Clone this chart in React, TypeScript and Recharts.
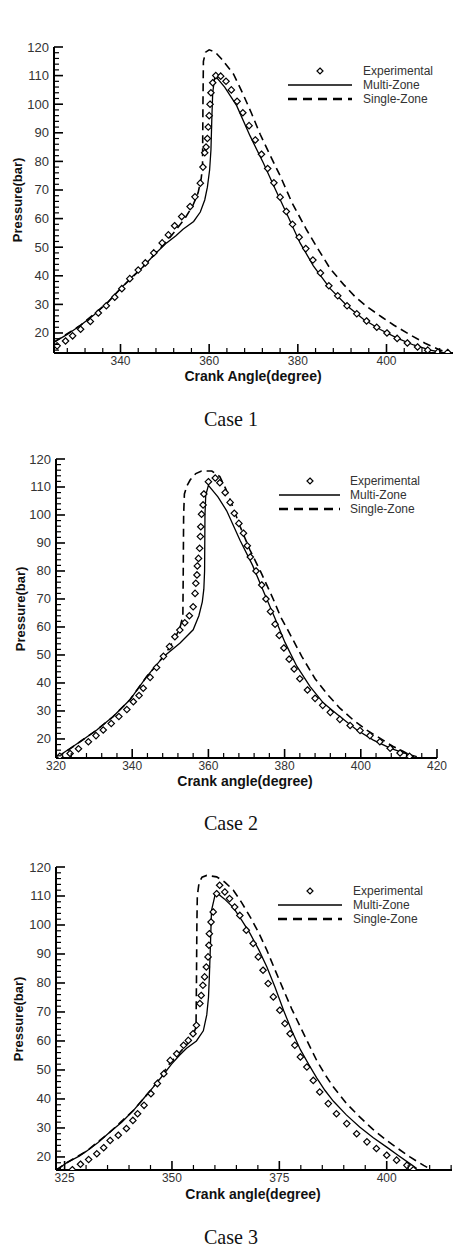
import React from 'react';
import { LineChart, Line, XAxis, YAxis, Legend } from 'recharts';

type Pt = [number, number];

// Case 1 : [crank angle (deg), pressure (bar)]
const case1Exp: Pt[] = [
  [325.7, 15.5], [327.6, 17.2], [329.2, 19], [331, 21.3], [333.2, 24], [335, 27], [336.8, 29.5],
  [338.7, 32.5], [340.3, 35.5], [342.1, 39], [344, 42], [345.6, 44.5], [347.5, 48], [349.4, 51.5],
  [350.8, 54.3], [352.2, 57.5], [353.8, 60.7], [355.7, 64.2], [356.8, 67.6], [358, 72.4], [358.6, 78],
  [359, 83], [359.3, 85], [359.6, 88], [359.8, 92], [360, 96], [360.2, 100], [360.4, 104], [360.8, 107.5],
  [361.5, 110], [362.6, 109.8], [363.8, 108], [365, 105], [366.3, 101], [367.6, 97], [369, 92.5],
  [370.4, 87.5], [371.8, 82.5], [373.2, 77.5], [374.6, 72.5], [376, 67.5], [377.4, 62.5], [378.8, 58],
  [380.3, 53.5], [381.8, 49.5], [383.4, 45.5], [385.1, 41], [387, 36.5], [389, 33], [391.1, 29.5],
  [393.3, 26.7], [395.5, 24.2], [397.8, 22], [400.1, 20], [402.4, 18.1], [404.7, 16.5], [407, 15.1],
  [409.3, 14], [411.6, 13.3], [413.8, 13.2],
];
const case1Multi: Pt[] = [
  [325, 16.8], [328, 19.5], [331, 22.7], [334, 26.3], [337, 30.5], [340, 35.5], [342.5, 39.5], [345, 43],
  [348, 48], [350.4, 51.5], [352.5, 54], [354.1, 56.3], [356.5, 59], [358, 62.3], [359, 66.5], [359.6, 71],
  [360.1, 77], [360.4, 84], [360.6, 95], [360.8, 104], [361.3, 110], [363.5, 106], [366.2, 99.5],
  [369.2, 89], [372.2, 79.5], [375, 70], [378, 60], [380.5, 51.5], [383.5, 43.5], [387.3, 35.5],
  [391.1, 29.5], [394.8, 24.8], [398.6, 21.2], [402.4, 18.2], [406.1, 15.8], [409.9, 14], [412.8, 13.1],
];
const case1Single: Pt[] = [
  [325, 16.8], [331, 22.7], [337, 30.5], [340, 35.5], [345, 43], [348, 48], [350.4, 52], [352.5, 56],
  [354.5, 60], [356.3, 64.5], [357.5, 69], [358.2, 74], [358.5, 78], [358.6, 100], [358.7, 115],
  [359.2, 118.2], [360, 119], [361.3, 118.3], [362.8, 115.8], [365.5, 110.5], [367.5, 104], [369.5, 97],
  [371.5, 89.5], [373.8, 82], [376, 75], [378.7, 65.5], [382, 56], [384.3, 50], [387.3, 42.5],
  [390.3, 37], [392.9, 32.7], [395.6, 29.2], [399, 25.5], [401.6, 22.8], [405.4, 19.3], [408.7, 16.4],
  [412.1, 14], [414.6, 13],
];

// Case 2
const case2Exp: Pt[] = [
  [321, 13.8], [323.7, 14.8], [325.9, 16.5], [328.5, 19], [330.5, 21.2], [332.4, 23.2], [334.5, 25.5],
  [336.5, 28], [338.6, 30.5], [340.3, 33.3], [341.8, 35.5], [342.9, 38.1], [344.7, 42], [346.4, 45.5],
  [348.2, 49.5], [349.8, 53], [351.2, 56.5], [352.5, 58.9], [353.8, 61.5], [355, 64], [356, 67.2],
  [356.5, 72], [356.7, 75.6], [357, 78.6], [357.1, 81.8], [357.4, 84.5], [357.7, 88.1], [357.9, 92.3],
  [358, 95.8], [358.2, 100.3], [358.6, 103.6], [358.8, 107.5], [360, 111.9], [361.8, 113.2], [363, 111.5],
  [364.4, 108], [365.7, 104.5], [366.8, 100.6], [368, 97], [369.2, 93.5], [370.2, 89], [371, 85],
  [372.5, 80], [374, 75], [375.1, 70], [376.3, 65.5], [377.5, 61], [378.6, 57], [379.8, 52.5],
  [381.2, 48.5], [382.5, 45], [384, 41.5], [386, 37.5], [388, 34.5], [390, 32], [392, 29.5], [394.5, 27],
  [397.2, 24.8], [399.8, 23], [402.4, 21.2], [405, 19], [407.7, 16.7], [410.3, 15], [412.8, 13.8],
];
const case2Multi: Pt[] = [
  [320.2, 13.2], [321.9, 15], [326.3, 19], [330.7, 23.2], [335, 28], [339.4, 34], [343.8, 42.3],
  [348.2, 49.4], [352.5, 54.2], [356, 59], [357.5, 64], [358.4, 69], [358.8, 73.5], [359, 80], [359.1, 100],
  [359.3, 107], [360, 110.6], [362.5, 106.5], [364.8, 101.5], [368.3, 91], [371.6, 82], [375, 71],
  [377.5, 63], [380.1, 54.5], [383.2, 46], [386.7, 38.7], [390.2, 32.8], [394.5, 28], [398.9, 23.3],
  [403.3, 19.6], [407.7, 16.7], [411.2, 15], [414.7, 13.7],
];
const case2Single: Pt[] = [
  [320.2, 13.2], [326.3, 19], [330.7, 23.2], [335, 28], [339.4, 34], [343.8, 42.3], [346.5, 46.5],
  [349, 51], [351, 55.5], [352.5, 59.5], [353.3, 64], [353.4, 80], [353.5, 100], [353.7, 107.5],
  [354.4, 110.5], [355.2, 112.5], [356.7, 114.8], [358.2, 115.7], [360.9, 115.7], [363, 113.7],
  [364.5, 109.5], [365.7, 105.4], [368.3, 96], [370.9, 87.5], [373.8, 79.5], [377, 70], [379, 63.5],
  [381, 58.5], [384.5, 49.5], [388, 41.5], [391.5, 35.5], [394.5, 31], [398, 26.8], [401.5, 23.2],
  [405, 20.3], [408.5, 17.3], [411.2, 15.5], [414, 13.5],
];

// Case 3
const case3Exp: Pt[] = [
  [326.8, 15.6], [328.7, 17.5], [330.6, 19.1], [332.5, 21.1], [334.1, 23.2], [335.6, 25.7], [337.5, 27.5],
  [339.4, 29.8], [340.9, 32.6], [342, 34.9], [343.5, 37.8], [345.1, 41.8], [346.6, 45.3], [348.1, 48.7],
  [349.6, 53.3], [351.1, 55.6], [352.7, 58.5], [353.8, 60.2], [354.9, 62.5], [355.7, 65.4], [356.5, 72.9],
  [356.8, 75.7], [357.2, 79.2], [357.6, 82.1], [358, 85.5], [358.4, 89], [358.6, 93], [358.7, 97],
  [359.1, 101], [359.6, 104.5], [360.4, 110.8], [361.1, 113.7], [362.3, 111.4], [363.4, 109.1],
  [364.6, 106.2], [365.8, 103.3], [367.3, 98.2], [368.9, 93.6], [370.1, 89], [371.2, 84.4], [372.4, 79.8],
  [373.6, 75.2], [375.1, 70.6], [376.3, 66], [377.5, 62.5], [378.6, 58.5], [379.9, 54.5], [381.4, 51],
  [382.9, 46.4], [384.4, 42.4], [386.4, 38.4], [388.3, 34.9], [390.7, 31.5], [393, 28], [395.4, 25.2],
  [397.6, 22.9], [400, 20.6], [402.3, 18.9], [404.7, 17.1], [406.2, 15.6],
];
const case3Multi: Pt[] = [
  [323, 15.4], [325.5, 18], [328.4, 20.3], [330.1, 22], [332.8, 25], [335.5, 28.5], [338.3, 32], [341, 36],
  [343.3, 40], [345.6, 44], [347.8, 48], [349.9, 52], [351.7, 55], [353.4, 57.5], [355.7, 60],
  [357.3, 63.5], [358.1, 69], [358.5, 75], [358.7, 82], [359, 95], [359.2, 105], [360.2, 111.4],
  [362.2, 109], [364.3, 106], [366.3, 101.5], [368.2, 97], [370.2, 91.5], [372.1, 85.5], [374, 78.5],
  [376, 70.5], [377.9, 63.5], [379.9, 57], [381.8, 52], [383.7, 47.3], [385.6, 43], [387.6, 39.2],
  [390.6, 34.5], [393.7, 30.3], [396.8, 26.7], [400, 23.4], [402.7, 20.5], [405.4, 17.7], [407, 16],
];
const case3Single: Pt[] = [
  [323, 15.4], [325.5, 18], [330.1, 22], [335.5, 28.5], [341, 36], [345.6, 44], [349.6, 52.5],
  [351.5, 55.5], [353.2, 58.3], [354.8, 61.5], [355.6, 64.8], [355.7, 80], [355.8, 100], [355.9, 110],
  [356.3, 114.5], [357, 116.5], [358.1, 117.1], [360.4, 116.6], [362.3, 114.8], [364.3, 112],
  [366.2, 107.8], [368.2, 102.8], [370.2, 97.3], [372.1, 91.3], [374, 84.5], [376, 77.5], [377.9, 71],
  [379.9, 64.8], [381.8, 59], [383.7, 53.3], [385.6, 48.5], [387.6, 44.1], [390.6, 38.5], [393.7, 33.8],
  [396.8, 29.5], [400, 25.7], [402.7, 22.8], [405.4, 20], [408.6, 17.1], [410.6, 15.4],
];

// axis labels
const yLabels = [20, 30, 40, 50, 60, 70, 80, 90, 100, 110, 120];
const case1XLabels = [340, 360, 380, 400];
const case2XLabels = [320, 340, 360, 380, 400, 420];
const case3XLabels = [325, 350, 375, 400];

const range = (from: number, to: number, step: number) => {
  const out: number[] = [];
  for (let v = from; v <= to + 1e-6; v += step) out.push(Math.round(v * 100) / 100);
  return out;
};

const toRows = (pts: Pt[]) => pts.map(([x, y]) => ({ x, y }));

const FONT = '"Liberation Sans", Arial, Helvetica, sans-serif';

const diamondPath = (cx: number, cy: number, r: number) =>
  `M${cx},${cy - r}L${cx + r},${cy}L${cx},${cy + r}L${cx - r},${cy}Z`;

const ExpDot = (props: any) => {
  const { cx, cy, index } = props;
  if (cx == null || cy == null) return <g key={index} />;
  return (
    <path key={index} d={diamondPath(cx, cy, 3.2)} fill="#fff" stroke="#000" strokeWidth={1.2} />
  );
};

const makeXTick = (labels: number[]) => (props: any) => {
  const { x, y, payload } = props;
  const major = labels.includes(payload.value);
  return (
    <g>
      <line x1={x} x2={x} y1={y} y2={y - (major ? 9 : 5)} stroke="#000" strokeWidth={major ? 1.6 : 1.2} />
      {major && (
        <text x={x} y={y + 8} textAnchor="middle" dominantBaseline="central"
          fontSize={12} fill="#333" fontFamily={FONT}>
          {payload.value}
        </text>
      )}
    </g>
  );
};

const YTick = (props: any) => {
  const { x, y, payload } = props;
  const major = yLabels.includes(payload.value);
  return (
    <g>
      <line x1={x} x2={x + (major ? 9 : 5)} y1={y} y2={y} stroke="#000" strokeWidth={major ? 1.6 : 1.2} />
      {major && (
        <text x={x - 5} y={y} textAnchor="end" dominantBaseline="central"
          fontSize={13} fill="#333" fontFamily={FONT}>
          {payload.value}
        </text>
      )}
    </g>
  );
};

interface LegendPos { left: number; top: number; lineLen: number; textX: number; diamondX: number }

const LegendBox = ({ pos }: { pos: LegendPos }) => (
  <svg width={180} height={48} style={{ display: 'block', overflow: 'visible' }}>
    <path d={diamondPath(pos.diamondX, 9, 3)} fill="#fff" stroke="#000" strokeWidth={1.2} />
    <text x={pos.textX} y={9} dominantBaseline="central" fontSize={12} fill="#333" fontFamily={FONT}>
      Experimental
    </text>
    <line x1={3} x2={3 + pos.lineLen} y1={23} y2={23} stroke="#000" strokeWidth={1.3} />
    <text x={pos.textX} y={23} dominantBaseline="central" fontSize={12} fill="#333" fontFamily={FONT}>
      Multi-Zone
    </text>
    <line x1={3} x2={3 + pos.lineLen} y1={37} y2={37} stroke="#000" strokeWidth={2.4} strokeDasharray="9 6" />
    <text x={pos.textX} y={37} dominantBaseline="central" fontSize={12} fill="#333" fontFamily={FONT}>
      Single-Zone
    </text>
  </svg>
);

interface CaseConfig {
  top: number;
  height: number;
  yAxisWidth: number;
  right: number;
  xDomain: [number, number];
  yDomain: [number, number];
  xTicks: number[];
  xLabels: number[];
  exp: Pt[];
  multi: Pt[];
  single: Pt[];
  legend: LegendPos;
}

const cases: CaseConfig[] = [
  {
    top: 0, height: 393, yAxisWidth: 54, right: 5,
    xDomain: [325, 415], yDomain: [13, 120],
    xTicks: range(328, 412, 4), xLabels: case1XLabels,
    exp: case1Exp, multi: case1Multi, single: case1Single,
    legend: { left: 285, top: 62, lineLen: 64, textX: 78, diamondX: 35 },
  },
  {
    top: 412, height: 386, yAxisWidth: 56, right: 21,
    xDomain: [320, 420], yDomain: [13.2, 120],
    xTicks: range(320, 420, 4), xLabels: case2XLabels,
    exp: case2Exp, multi: case2Multi, single: case2Single,
    legend: { left: 276, top: 60, lineLen: 61, textX: 74, diamondX: 34 },
  },
  {
    top: 820, height: 390, yAxisWidth: 56, right: 6,
    xDomain: [323, 415.2], yDomain: [15.5, 120],
    xTicks: range(325, 415, 5), xLabels: case3XLabels,
    exp: case3Exp, multi: case3Multi, single: case3Single,
    legend: { left: 275, top: 62, lineLen: 64, textX: 78, diamondX: 35 },
  },
];

const CaseChart = ({ c }: { c: CaseConfig }) => (
  <div style={{ position: 'absolute', left: 0, top: c.top }}>
    <LineChart width={458} height={c.height} margin={{ top: 47, right: c.right, left: 0, bottom: 0 }}>
      <XAxis
        type="number"
        dataKey="x"
        domain={c.xDomain}
        allowDataOverflow
        ticks={c.xTicks}
        interval={0}
        tick={makeXTick(c.xLabels)}
        tickLine={false}
        tickSize={0}
        tickMargin={0}
        height={40}
        axisLine={{ stroke: '#000', strokeWidth: 2 }}
      />
      <YAxis
        type="number"
        dataKey="y"
        domain={c.yDomain}
        allowDataOverflow
        ticks={range(14, 120, 2).filter((v) => v >= c.yDomain[0])}
        interval={0}
        tick={YTick}
        tickLine={false}
        tickSize={0}
        tickMargin={0}
        width={c.yAxisWidth}
        axisLine={{ stroke: '#000', strokeWidth: 2 }}
      />
      <Legend
        layout="horizontal"
        verticalAlign="middle"
        align="center"
        wrapperStyle={{ left: c.legend.left, top: c.legend.top, width: 180, height: 48 }}
        content={() => <LegendBox pos={c.legend} />}
      />
      <Line
        data={toRows(c.multi)}
        dataKey="y"
        name="Multi-Zone"
        type="linear"
        stroke="#000"
        strokeWidth={1.3}
        dot={false}
        isAnimationActive={false}
      />
      <Line
        data={toRows(c.single)}
        dataKey="y"
        name="Single-Zone"
        type="linear"
        stroke="#000"
        strokeWidth={1.6}
        strokeDasharray="8 5"
        dot={false}
        isAnimationActive={false}
      />
      <Line
        data={toRows(c.exp)}
        dataKey="y"
        name="Experimental"
        stroke="none"
        dot={ExpDot}
        activeDot={false}
        isAnimationActive={false}
      />
    </LineChart>
  </div>
);

// axis titles and captions, page coordinates
const titles = [
  { yTitle: [17, 200], xTitle: [253, 376], xText: 'Crank Angle(degree)', caption: [231, 418], capText: 'Case 1' },
  { yTitle: [20, 609], xTitle: [245, 781], xText: 'Crank angle(degree)', caption: [231, 822], capText: 'Case 2' },
  { yTitle: [18, 1019], xTitle: [253, 1194], xText: 'Crank angle(degree)', caption: [231, 1236], capText: 'Case 3' },
];

export default function App() {
  return (
    <div style={{ position: 'absolute', left: 0, top: 0, width: 458, height: 1252, background: '#fff', overflow: 'hidden' }}>
      {cases.map((c, i) => (
        <CaseChart key={i} c={c} />
      ))}
      <svg width={458} height={1252} style={{ position: 'absolute', left: 0, top: 0, pointerEvents: 'none' }}>
        {titles.map((t, i) => (
          <g key={i}>
            <text
              x={t.yTitle[0]}
              y={t.yTitle[1]}
              transform={`rotate(-90 ${t.yTitle[0]} ${t.yTitle[1]})`}
              textAnchor="middle"
              dominantBaseline="central"
              fontSize={13}
              fontWeight="bold"
              fill="#111"
              fontFamily={FONT}
            >
              Pressure(bar)
            </text>
            <text
              x={t.xTitle[0]}
              y={t.xTitle[1]}
              textAnchor="middle"
              dominantBaseline="central"
              fontSize={14}
              fontWeight="bold"
              fill="#111"
              fontFamily={FONT}
            >
              {t.xText}
            </text>
            <text
              x={t.caption[0]}
              y={t.caption[1]}
              textAnchor="middle"
              dominantBaseline="central"
              fontSize={22}
              textLength={54}
              lengthAdjust="spacingAndGlyphs"
              fill="#111"
              fontFamily='"Liberation Serif", "Times New Roman", serif'
            >
              {t.capText}
            </text>
          </g>
        ))}
      </svg>
    </div>
  );
}
